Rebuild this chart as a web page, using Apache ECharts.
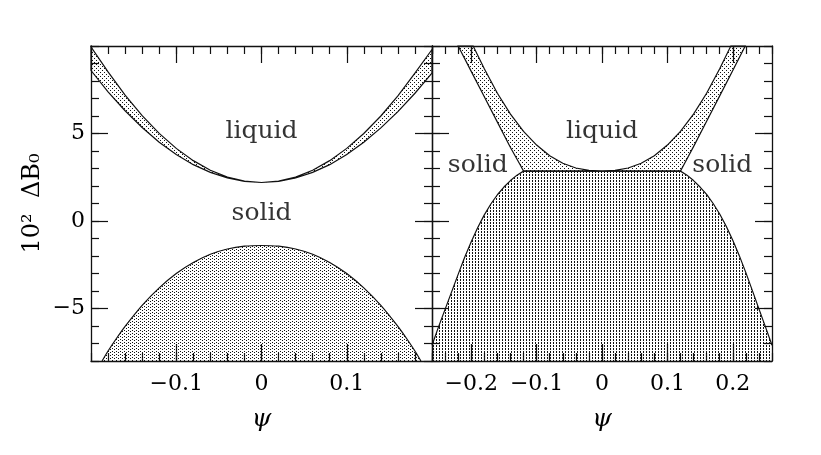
<!DOCTYPE html>
<html>
<head>
<meta charset="utf-8">
<script src="https://cdn.jsdelivr.net/npm/echarts@6/dist/echarts.min.js"></script>
<style>
  html, body { margin: 0; padding: 0; background: #fff; }
  #chart { width: 821px; height: 455px; }
</style>
</head>
<body>
<div id="chart"></div>
<script>
// ---- data (psi, 10^2 dB0) ----
// left panel: coexistence band edges
const leftBandLower = [[-0.2, 8.6], [-0.18, 7.38], [-0.16, 6.3], [-0.14, 5.34], [-0.12, 4.5], [-0.1, 3.8], [-0.08, 3.22], [-0.06, 2.78], [-0.04, 2.46], [-0.02, 2.26], [0, 2.2], [0.02, 2.26], [0.04, 2.46], [0.06, 2.78], [0.08, 3.22], [0.1, 3.8], [0.12, 4.5], [0.14, 5.32], [0.16, 6.25], [0.18, 7.3], [0.2, 8.45]]
const leftBandUpper = [[-0.2, 9.95], [-0.18, 8.52], [-0.16, 7.19], [-0.14, 6.02], [-0.12, 5.01], [-0.1, 4.15], [-0.08, 3.45], [-0.06, 2.9], [-0.04, 2.51], [-0.02, 2.28], [0, 2.2], [0.02, 2.28], [0.04, 2.51], [0.06, 2.9], [0.08, 3.45], [0.1, 4.15], [0.12, 5.0], [0.14, 6.0], [0.16, 7.15], [0.18, 8.45], [0.2, 9.8]]
// left panel: solid region boundary
const leftSolid = [[-0.187, -8], [-0.18, -7.43], [-0.17, -6.7], [-0.16, -6.02], [-0.14, -4.82], [-0.12, -3.82], [-0.1, -3.0], [-0.08, -2.37], [-0.06, -1.9], [-0.04, -1.6], [-0.02, -1.44], [0, -1.4], [0.02, -1.44], [0.04, -1.6], [0.06, -1.9], [0.08, -2.37], [0.1, -3.0], [0.12, -3.82], [0.14, -4.82], [0.16, -6.02], [0.17, -6.7], [0.18, -7.43], [0.187, -8]]

// right panel: solid region boundary (flat top at the triple line)
const rightSolid = [[-0.26, -7.1], [-0.25, -6.05], [-0.24, -5.05], [-0.23, -4.05], [-0.22, -3.05], [-0.21, -2.07], [-0.2, -1.18], [-0.19, -0.37], [-0.18, 0.35], [-0.17, 0.97], [-0.16, 1.5], [-0.15, 1.94], [-0.14, 2.31], [-0.13, 2.62], [-0.12, 2.85], [0.12, 2.85], [0.13, 2.62], [0.14, 2.31], [0.15, 1.94], [0.16, 1.52], [0.17, 1.0], [0.18, 0.4], [0.19, -0.3], [0.2, -1.1], [0.21, -1.98], [0.22, -2.95], [0.23, -3.98], [0.24, -5.02], [0.25, -6.05], [0.26, -7.1]]
// right panel: outer solid/coexistence lines (left one top -> bottom, right one bottom -> top)
const rightOuterLeft = [[-0.22, 10], [-0.2, 8.55], [-0.18, 7.1], [-0.16, 5.65], [-0.14, 4.2], [-0.125, 3.2], [-0.12, 2.85]]
const rightOuterRight = [[0.12, 2.85], [0.125, 3.2], [0.14, 4.25], [0.16, 5.7], [0.18, 7.15], [0.2, 8.6], [0.219, 10]]
// right panel: liquidus (left -> right)
const rightLiquid = [[-0.197, 10], [-0.18, 8.7], [-0.16, 7.3], [-0.14, 6.11], [-0.12, 5.12], [-0.1, 4.34], [-0.08, 3.73], [-0.06, 3.3], [-0.04, 3.03], [-0.02, 2.89], [0, 2.85], [0.02, 2.89], [0.04, 3.03], [0.06, 3.3], [0.08, 3.73], [0.1, 4.34], [0.12, 5.12], [0.14, 6.11], [0.16, 7.3], [0.18, 8.7], [0.197, 10]]

// phase labels
const leftLabels = [{ name: 'liquid', value: [0, 5.1] }, { name: 'solid', value: [0, 0.45] }]
const rightLabels = [{ name: 'liquid', value: [0, 5.1] }, { name: 'solid', value: [-0.19, 3.2] }, { name: 'solid', value: [0.184, 3.2] }]

// ticks
const leftXRange = [-0.2, 0.2]
const rightXRange = [-0.26, 0.26]
const yRange = [-8, 10]
const leftXMajor = [-0.1, 0, 0.1]
const rightXMajor = [-0.2, -0.1, 0, 0.1, 0.2]
const xMinorStep = 0.02
const yMajor = [-5, 0, 5]
const yMinorStep = 1

const FONT = 'DejaVu Serif'
const INK = '#111'

// dotted fills
function dotPattern(w, h, dots) {
  const c = document.createElement('canvas')
  c.width = w
  c.height = h
  const ctx = c.getContext('2d')
  ctx.fillStyle = INK
  dots.forEach((d) => ctx.fillRect(d[0], d[1], 1, 1))
  return { image: c, repeat: 'repeat' }
}
const bandFill = dotPattern(4, 4, [[0, 0], [2, 2]])
const leftSolidFill = dotPattern(4, 3, [[0, 0], [2, 1]])
const rightSolidFill = dotPattern(3, 3, [[1, 0], [1, 1]])

const minus = (v) => String(v).replace('-', '\u2212')

// four x axes + four y axes per grid (major/minor ticks on all sides)
function xAxesFor(g, range, majors, withName) {
  const base = { gridIndex: g, type: 'value', min: range[0], max: range[1], offset: 0, splitLine: { show: false } }
  return [
    Object.assign({}, base, {
      position: 'bottom',
      axisLine: { show: true, onZero: false, lineStyle: { color: INK, width: 1.3 } },
      axisTick: { show: true, inside: true, length: 17, customValues: majors, lineStyle: { color: INK, width: 1.2 } },
      axisLabel: { show: true, customValues: majors, formatter: minus, margin: 12, color: '#000', fontFamily: FONT, fontSize: 22 },
      name: withName ? 'ψ' : '',
      nameLocation: 'middle',
      nameGap: 46,
      nameTextStyle: { color: '#000', fontFamily: FONT, fontSize: 25, fontStyle: 'italic' },
    }),
    Object.assign({}, base, {
      position: 'bottom',
      interval: xMinorStep,
      axisLine: { show: false, onZero: false },
      axisTick: { show: true, inside: true, length: 8, lineStyle: { color: INK, width: 1.2 } },
      axisLabel: { show: false },
    }),
    Object.assign({}, base, {
      position: 'top',
      axisLine: { show: true, onZero: false, lineStyle: { color: INK, width: 1.3 } },
      axisTick: { show: true, inside: true, length: 17, customValues: majors, lineStyle: { color: INK, width: 1.2 } },
      axisLabel: { show: false },
    }),
    Object.assign({}, base, {
      position: 'top',
      interval: xMinorStep,
      axisLine: { show: false, onZero: false },
      axisTick: { show: true, inside: true, length: 8, lineStyle: { color: INK, width: 1.2 } },
      axisLabel: { show: false },
    }),
  ]
}

function yAxesFor(g, withLabels) {
  const base = { gridIndex: g, type: 'value', min: yRange[0], max: yRange[1], offset: 0, splitLine: { show: false } }
  return [
    Object.assign({}, base, {
      position: 'left',
      axisLine: { show: true, onZero: false, lineStyle: { color: INK, width: 1.3 } },
      axisTick: { show: true, inside: true, length: 17, customValues: yMajor, lineStyle: { color: INK, width: 1.2 } },
      axisLabel: { show: withLabels, customValues: yMajor, formatter: minus, margin: 6, color: '#000', fontFamily: FONT, fontSize: 22 },
      name: withLabels ? '10\u00B2  \u0394B\u2080' : '',
      nameLocation: 'middle',
      nameRotate: 90,
      nameGap: 46,
      nameTextStyle: { color: '#000', fontFamily: FONT, fontSize: 24 },
    }),
    Object.assign({}, base, {
      position: 'left',
      interval: yMinorStep,
      axisLine: { show: false, onZero: false },
      axisTick: { show: true, inside: true, length: 8, lineStyle: { color: INK, width: 1.2 } },
      axisLabel: { show: false },
    }),
    Object.assign({}, base, {
      position: 'right',
      axisLine: { show: true, onZero: false, lineStyle: { color: INK, width: 1.3 } },
      axisTick: { show: true, inside: true, length: 17, customValues: yMajor, lineStyle: { color: INK, width: 1.2 } },
      axisLabel: { show: false },
    }),
    Object.assign({}, base, {
      position: 'right',
      interval: yMinorStep,
      axisLine: { show: false, onZero: false },
      axisTick: { show: true, inside: true, length: 8, lineStyle: { color: INK, width: 1.2 } },
      axisLabel: { show: false },
    }),
  ]
}

// closed polygon drawn through the axes' own scales
function polygonSeries(xi, yi, pts, fill) {
  return {
    type: 'custom',
    xAxisIndex: xi,
    yAxisIndex: yi,
    silent: true,
    z: 3,
    data: pts,
    renderItem: (params, api) => {
      if (params.dataIndex !== 0) return null
      return {
        type: 'polygon',
        shape: { points: pts.map((p) => api.coord(p)) },
        style: { fill: fill, stroke: INK, lineWidth: 1.2 },
      }
    },
  }
}

function areaSeries(xi, yi, pts, fill, smooth) {
  return {
    type: 'line',
    xAxisIndex: xi,
    yAxisIndex: yi,
    data: pts,
    smooth: smooth,
    showSymbol: false,
    silent: true,
    z: 3,
    lineStyle: { color: INK, width: 1.2 },
    areaStyle: { color: fill, opacity: 1, origin: 'start' },
  }
}

function labelSeries(xi, yi, items) {
  return {
    type: 'scatter',
    xAxisIndex: xi,
    yAxisIndex: yi,
    data: items,
    symbolSize: 0.1,
    silent: true,
    z: 5,
    itemStyle: { color: '#fff' },
    label: { show: true, position: 'inside', formatter: '{b}', color: '#000', textBorderWidth: 0, fontFamily: FONT, fontSize: 25 },
  }
}

const chart = echarts.init(document.getElementById('chart'))
chart.setOption({
  animation: false,
  backgroundColor: '#fff',
  grid: [
    { left: 91, top: 46, width: 341, height: 315 },
    { left: 432, top: 46, width: 340, height: 315 },
  ],
  xAxis: [...xAxesFor(0, leftXRange, leftXMajor, true), ...xAxesFor(1, rightXRange, rightXMajor, true)],
  yAxis: [...yAxesFor(0, true), ...yAxesFor(1, false)],
  series: [
    polygonSeries(0, 0, leftBandLower.concat(leftBandUpper.slice().reverse()), bandFill),
    areaSeries(0, 0, leftSolid, leftSolidFill, 0.3),
    labelSeries(0, 0, leftLabels),
    areaSeries(4, 4, rightSolid, rightSolidFill, false),
    polygonSeries(4, 4, rightOuterLeft.concat(rightOuterRight, rightLiquid.slice().reverse()), bandFill),
    labelSeries(4, 4, rightLabels),
  ],
})
</script>
</body>
</html>
